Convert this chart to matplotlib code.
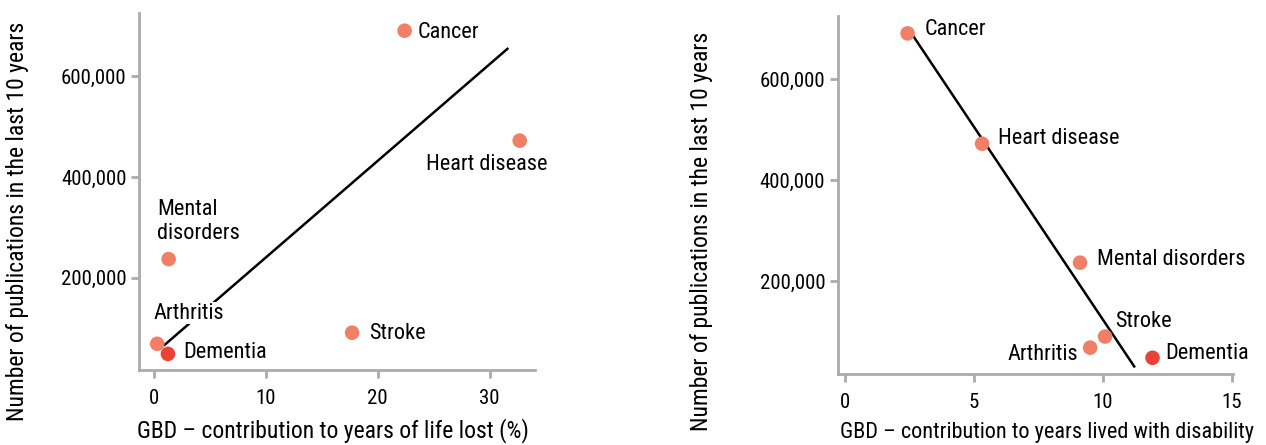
import matplotlib.pyplot as plt
from matplotlib.ticker import FuncFormatter

# data
diseases = ["Cancer", "Heart disease", "Mental disorders", "Stroke", "Arthritis", "Dementia"]
publications = [690000, 472000, 237000, 91000, 69000, 49000]
yll_pct = [22.4, 32.7, 1.28, 17.7, 0.26, 1.22]
yld_pct = [2.43, 5.32, 9.12, 10.09, 9.51, 11.93]

# trend lines as drawn in the figure (end points)
fit_left_x = [0.93, 31.6]
fit_left_y = [67000, 654000]
fit_right_x = [2.62, 11.22]
fit_right_y = [687000, 31900]

# label positions (data coords) and alignment
left_labels = {
    "Cancer": (23.6, 687000, "left"),
    "Heart disease": (24.3, 424000, "left"),
    "Mental disorders": (0.22, 312000, "left"),
    "Stroke": (19.2, 90000, "left"),
    "Arthritis": (-0.1, 130000, "left"),
    "Dementia": (2.63, 51000, "left"),
}
right_labels = {
    "Cancer": (3.1, 697000, "left"),
    "Heart disease": (5.93, 482000, "left"),
    "Mental disorders": (9.77, 244000, "left"),
    "Stroke": (10.49, 121000, "left"),
    "Arthritis": (9.04, 55000, "right"),
    "Dementia": (12.41, 57000, "left"),
}

FONT = ["Roboto Condensed", "Liberation Sans Narrow", "Liberation Sans", "DejaVu Sans"]
plt.rcParams["font.family"] = FONT
FS_TICK = 15
FS_NOTE = 16
FS_AXIS = 17

SALMON = "#F07F65"
RED = "#EE4136"
GREY = "#ABABAB"

colors = [RED if d == "Dementia" else SALMON for d in diseases]

fig = plt.figure(figsize=(12.66, 4.45), dpi=100)
ax1 = fig.add_axes([0.1098, 0.1685, 0.3128, 0.8022])
ax2 = fig.add_axes([0.6617, 0.1596, 0.3122, 0.8052])


def style(ax):
    for s in ["top", "right"]:
        ax.spines[s].set_visible(False)
    for s in ["left", "bottom"]:
        ax.spines[s].set_color(GREY)
        ax.spines[s].set_linewidth(2)
    ax.tick_params(axis="both", color=GREY, width=2, length=6, labelsize=FS_TICK)
    ax.tick_params(axis="x", pad=8)
    ax.tick_params(axis="y", pad=3)
    ax.yaxis.set_major_formatter(FuncFormatter(lambda v, p: f"{int(v):,}"))
    ax.set_yticks([200000, 400000, 600000])
    ax.set_ylim(17000, 725000)


# left panel
style(ax1)
ax1.plot(fit_left_x, fit_left_y, color="black", lw=1.8, zorder=2)
ax1.scatter(yll_pct, publications, s=110, c=colors, zorder=3, linewidths=0)
for d, (x, y, ha) in left_labels.items():
    txt = "Mental\ndisorders" if d == "Mental disorders" else d
    ax1.text(x, y, txt, ha=ha, va="center", fontsize=FS_NOTE, zorder=4,
             bbox=dict(facecolor="white", edgecolor="none", pad=0.5))
ax1.set_xlim(-1.37, 34.07)
ax1.set_xticks([0, 10, 20, 30])
ax1.set_xlabel("GBD – contribution to years of life lost (%)", fontsize=FS_AXIS)
ax1.set_ylabel("Number of publications in the last 10 years", fontsize=FS_AXIS)
ax1.xaxis.set_label_coords(0.49, -0.135)
ax1.yaxis.set_label_coords(-0.278, 0.417)

# right panel
style(ax2)
ax2.plot(fit_right_x, fit_right_y, color="black", lw=1.8, zorder=2)
ax2.scatter(yld_pct, publications, s=110, c=colors, zorder=3, linewidths=0)
for d, (x, y, ha) in right_labels.items():
    ax2.text(x, y, d, ha=ha, va="center", fontsize=FS_NOTE, zorder=4)
ax2.set_xlim(-0.28, 15.05)
ax2.set_xticks([0, 5, 10, 15])
ax2.set_xlabel("GBD – contribution to years lived with disability", fontsize=16)
ax2.set_ylabel("Number of publications in the last 10 years", fontsize=FS_AXIS)
ax2.xaxis.set_label_coords(0.53, -0.135)
ax2.yaxis.set_label_coords(-0.315, 0.397)

fig.savefig("out.png", dpi=100)
